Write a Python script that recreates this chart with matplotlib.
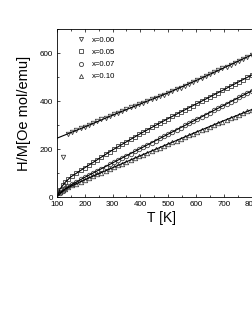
import matplotlib
matplotlib.use('Agg')
import matplotlib.pyplot as plt
from matplotlib.ticker import MultipleLocator
from matplotlib.lines import Line2D

plt.rcParams['font.family'] = ['Liberation Sans', 'DejaVu Sans']

# measured points (T in K, H/M in Oe mol/emu)
t_000 = [122, 140, 155, 170, 185, 200, 215, 230, 245, 260, 275, 290, 305, 320, 335, 350, 365, 380,
         395, 410, 425, 440, 455, 470, 485, 500, 515, 530, 545, 560, 575, 590, 605, 620, 635, 650,
         665, 680, 695, 710, 725, 740, 755, 770, 785, 800, 815]
hm_000 = [168, 264, 271, 278, 286, 293, 300, 308, 315, 323, 330, 338, 345, 352, 359, 366, 373, 380,
          387, 393, 400, 407, 414, 420, 427, 434, 441, 449, 456, 464, 472, 480, 488, 496, 504, 512,
          520, 528, 536, 543, 551, 559, 567, 575, 583, 592, 600]

t_low = [110, 120, 130, 140, 155, 170, 185, 200, 215, 230, 245, 260, 275, 290, 305, 320, 335, 350,
         365, 380, 395, 410, 425, 440, 455, 470, 485, 500, 515, 530, 545, 560, 575, 590, 605, 620,
         635, 650, 665, 680, 695, 710, 725, 740, 755, 770, 785, 800, 815]
hm_005 = [30, 50, 64, 75, 88, 100, 111, 122, 133, 144, 155, 167, 178, 189, 200, 211, 221, 231,
          241, 251, 261, 271, 281, 290, 300, 309, 318, 327, 336, 345, 354, 363, 372, 381, 390, 399,
          408, 417, 426, 435, 444, 453, 462, 471, 480, 489, 499, 508, 517]
hm_007 = [15, 27, 37, 45, 55, 64, 73, 82, 91, 100, 109, 118, 127, 136, 145, 154, 163, 172,
          181, 190, 199, 208, 217, 226, 235, 244, 253, 262, 271, 280, 289, 298, 307, 316, 325, 334,
          343, 352, 361, 370, 379, 388, 397, 406, 415, 424, 433, 442, 451]
hm_010 = [20, 28, 34, 40, 48, 56, 64, 72, 79, 87, 94, 102, 109, 117, 124, 132, 139, 147,
          154, 162, 169, 177, 184, 191, 199, 206, 213, 221, 228, 235, 242, 250, 257, 264, 271, 278,
          285, 293, 300, 307, 314, 321, 328, 335, 343, 350, 357, 364, 371]

# fitted curves
fit_t0 = [100, 200, 300, 400, 500, 600, 700, 800, 850]
fit_000 = [245, 292, 341, 388, 434, 485, 538, 592, 619]
fit_t = [105, 110, 130, 150, 200, 300, 400, 500, 600, 700, 800, 850]
fit_005 = [12, 32, 62, 84, 122, 196, 264, 327, 387, 447, 508, 538]
fit_007 = [5, 12, 34, 50, 82, 142, 202, 262, 322, 382, 442, 472]
fit_010 = [12, 18, 33, 45, 72, 122, 172, 221, 270, 318, 364, 387]

labels = ['x=0.00', 'x=0.05', 'x=0.07', 'x=0.10']
markers = ['v', 's', 'o', '^']

fig = plt.figure(figsize=(2.53, 3.27), dpi=100)
ax = fig.add_axes([57 / 253, 130 / 327, 208.5 / 253, 168 / 327])

series = [(t_000, hm_000), (t_low, hm_005), (t_low, hm_007), (t_low, hm_010)]
for (t, hm), m in zip(series, markers):
    ax.plot(t, hm, ls='none', marker=m, ms=3.2, mfc='none', mec='0.25', mew=0.6)

ax.plot(fit_t0, fit_000, color='black', lw=0.8)
for f in (fit_005, fit_007, fit_010):
    ax.plot(fit_t, f, color='black', lw=0.8)

ax.set_xlim(100, 850)
ax.set_ylim(0, 700)
ax.xaxis.set_major_locator(MultipleLocator(100))
ax.xaxis.set_minor_locator(MultipleLocator(50))
ax.yaxis.set_major_locator(MultipleLocator(200))
ax.yaxis.set_minor_locator(MultipleLocator(100))
ax.tick_params(which='both', direction='in', top=True, right=True, width=0.5, labelsize=5.8, pad=3)
ax.tick_params(which='major', length=2.5)
ax.tick_params(which='minor', length=1.5)
for s in ax.spines.values():
    s.set_linewidth(0.6)

ax.set_xlabel('T [K]', fontsize=10, labelpad=2)
ax.set_ylabel('H/M[Oe mol/emu]', fontsize=10.5, labelpad=6)

handles = [Line2D([], [], ls='none', marker=m, ms=3, mfc='none', mec='0.25', mew=0.6) for m in markers]
ax.legend(handles, labels, loc='upper left', bbox_to_anchor=(0.095, 0.955), frameon=False,
          fontsize=5.6, handlelength=1, handletextpad=0.9, labelspacing=0.6, borderpad=0,
          borderaxespad=0)

fig.savefig('out.png', dpi=100)
